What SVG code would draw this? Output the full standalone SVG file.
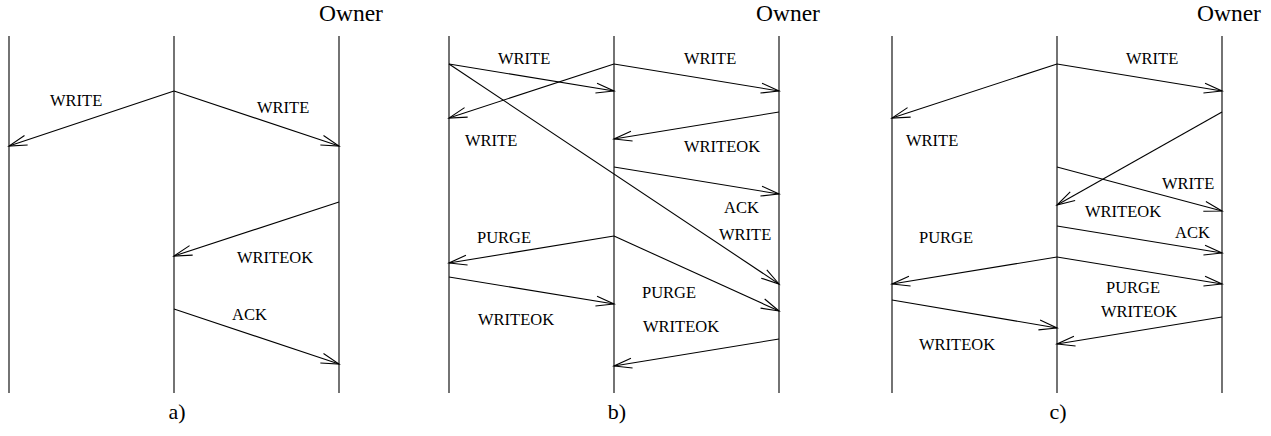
<svg xmlns="http://www.w3.org/2000/svg" width="1271" height="436" viewBox="0 0 1271 436">
  <style>
    .life { stroke: #000; stroke-width: 1.1; fill: none; }
    .msg { stroke: #000; stroke-width: 1.1; fill: none; marker-end: url(#open); }
    .lbl { font-family: "Liberation Serif", "DejaVu Serif", serif; font-size: 16.5px; fill: #000; }
    .owner { font-family: "Liberation Serif", "DejaVu Serif", serif; font-size: 23.5px; fill: #000; }
    .cap { font-family: "Liberation Serif", "DejaVu Serif", serif; font-size: 22px; fill: #000; text-anchor: middle; }
  </style>
  <defs>
    <!-- open V arrowhead -->
    <marker id="open" markerUnits="userSpaceOnUse" orient="auto" refX="0" refY="0" markerWidth="20" markerHeight="12" viewBox="-19 -6 20 12" overflow="visible">
      <path d="M -18 -5 L 0 0 L -18 5" fill="none" stroke="#000" stroke-width="1.1"/>
    </marker>
  </defs>

  <!-- panel a: lifelines -->
  <g id="a-left"><line class="life" x1="9" y1="36" x2="9" y2="393"/></g>
  <g id="a-mid"><line class="life" x1="174" y1="36" x2="174" y2="393"/></g>
  <g id="a-owner"><line class="life" x1="339" y1="36" x2="339" y2="393"/><text class="owner" x="319" y="21">Owner</text></g>
  <text class="cap" x="177" y="419">a)</text>

  <!-- panel b: lifelines -->
  <g id="b-left"><line class="life" x1="449" y1="36" x2="449" y2="393"/></g>
  <g id="b-mid"><line class="life" x1="614" y1="36" x2="614" y2="393"/></g>
  <g id="b-owner"><line class="life" x1="779" y1="36" x2="779" y2="393"/><text class="owner" x="756" y="21">Owner</text></g>
  <text class="cap" x="617" y="419">b)</text>

  <!-- panel c: lifelines -->
  <g id="c-left"><line class="life" x1="892" y1="36" x2="892" y2="393"/></g>
  <g id="c-mid"><line class="life" x1="1057" y1="36" x2="1057" y2="393"/></g>
  <g id="c-owner"><line class="life" x1="1222" y1="36" x2="1222" y2="393"/><text class="owner" x="1197" y="21">Owner</text></g>
  <text class="cap" x="1058" y="419">c)</text>

  <!-- messages -->
  <g id="connectors">
    <!-- a -->
    <line class="msg" x1="174" y1="91" x2="9" y2="146"/>
    <line class="msg" x1="174" y1="91" x2="339" y2="146"/>
    <line class="msg" x1="339" y1="202" x2="174" y2="256"/>
    <line class="msg" x1="174" y1="309" x2="339" y2="364"/>
    <!-- b -->
    <line class="msg" x1="449" y1="64" x2="614" y2="91"/>
    <line class="msg" x1="449" y1="64" x2="779" y2="284"/>
    <line class="msg" x1="614" y1="64" x2="449" y2="118"/>
    <line class="msg" x1="614" y1="64" x2="779" y2="91"/>
    <line class="msg" x1="779" y1="112" x2="614" y2="139"/>
    <line class="msg" x1="614" y1="167" x2="779" y2="194"/>
    <line class="msg" x1="614" y1="236" x2="449" y2="263"/>
    <line class="msg" x1="614" y1="236" x2="779" y2="311"/>
    <line class="msg" x1="449" y1="277" x2="614" y2="304"/>
    <line class="msg" x1="779" y1="339" x2="614" y2="366"/>
    <!-- c -->
    <line class="msg" x1="1057" y1="64" x2="892" y2="118"/>
    <line class="msg" x1="1057" y1="64" x2="1222" y2="91"/>
    <line class="msg" x1="1222" y1="112" x2="1057" y2="205"/>
    <line class="msg" x1="1057" y1="167" x2="1222" y2="211"/>
    <line class="msg" x1="1057" y1="226" x2="1222" y2="253"/>
    <line class="msg" x1="1057" y1="257" x2="892" y2="284"/>
    <line class="msg" x1="1057" y1="257" x2="1222" y2="284"/>
    <line class="msg" x1="892" y1="300" x2="1057" y2="328"/>
    <line class="msg" x1="1222" y1="317" x2="1057" y2="344"/>
  </g>

  <g id="labels">
    <text class="lbl" x="50" y="106">WRITE</text>
    <text class="lbl" x="257" y="113">WRITE</text>
    <text class="lbl" x="237" y="263">WRITEOK</text>
    <text class="lbl" x="232" y="320">ACK</text>

    <text class="lbl" x="498" y="64">WRITE</text>
    <text class="lbl" x="684" y="64">WRITE</text>
    <text class="lbl" x="465" y="146">WRITE</text>
    <text class="lbl" x="684" y="152">WRITEOK</text>
    <text class="lbl" x="724" y="213">ACK</text>
    <text class="lbl" x="719" y="240">WRITE</text>
    <text class="lbl" x="477" y="243">PURGE</text>
    <text class="lbl" x="642" y="298">PURGE</text>
    <text class="lbl" x="478" y="325">WRITEOK</text>
    <text class="lbl" x="643" y="332">WRITEOK</text>

    <text class="lbl" x="1126" y="64">WRITE</text>
    <text class="lbl" x="906" y="146">WRITE</text>
    <text class="lbl" x="1162" y="189">WRITE</text>
    <text class="lbl" x="1085" y="217">WRITEOK</text>
    <text class="lbl" x="1175" y="238">ACK</text>
    <text class="lbl" x="919" y="243">PURGE</text>
    <text class="lbl" x="1106" y="293">PURGE</text>
    <text class="lbl" x="1101" y="317">WRITEOK</text>
    <text class="lbl" x="919" y="350">WRITEOK</text>
  </g>
</svg>
